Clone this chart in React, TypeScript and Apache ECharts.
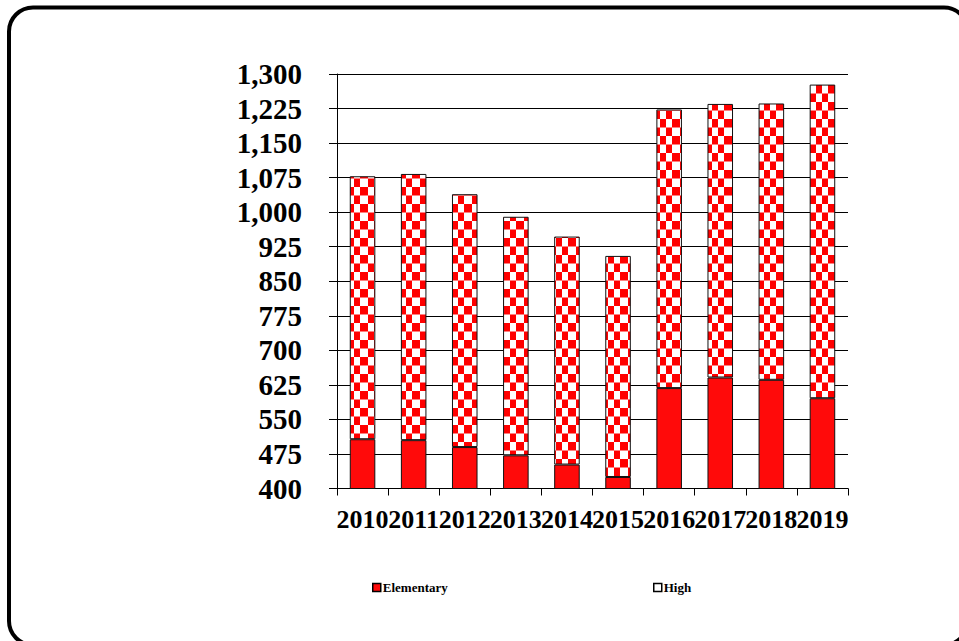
import React, { useEffect, useRef } from "react";
import * as echarts from "echarts";

// Enrollment by school level, 2010–2019
const years = ["2010", "2011", "2012", "2013", "2014", "2015", "2016", "2017", "2018", "2019"];
const elementary = [507, 505, 490, 472, 452, 425, 618, 641, 636, 596];
const high = [571, 578, 549, 518, 495, 480, 605, 594, 600, 681];

// Value axis range and step
const yMin = 400;
const yMax = 1300;
const yStep = 75;

const SERIF = '"Liberation Serif", "Times New Roman", serif';

// Red/white checkerboard tile, one bar wide, used for the "High" bars
function makeChecker(): HTMLCanvasElement {
  const c = document.createElement("canvas");
  c.width = 26;
  c.height = 17;
  const ctx = c.getContext("2d")!;
  ctx.fillStyle = "#ffffff";
  ctx.fillRect(0, 0, c.width, c.height);
  ctx.fillStyle = "#ff0000";
  const rowH = 8.5;
  // row A: red edges and red centre; row B: the two red inner columns
  ctx.fillRect(0, 0, 4, rowH);
  ctx.fillRect(10, 0, 6, rowH);
  ctx.fillRect(22, 0, 4, rowH);
  ctx.fillRect(4, rowH, 6, rowH);
  ctx.fillRect(16, rowH, 6, rowH);
  return c;
}

export default function App() {
  const ref = useRef<HTMLDivElement>(null);

  useEffect(() => {
    if (!ref.current) return;
    const chart = echarts.init(ref.current, undefined, { renderer: "svg" });
    const checker = makeChecker();

    const legendText = {
      fontFamily: SERIF,
      fontWeight: "bold" as const,
      fontSize: 13,
      color: "#000",
      padding: [0, 0, 0, -3],
    };

    chart.setOption({
      animation: false,
      backgroundColor: "#ffffff",
      grid: { left: 337, right: 111, top: 74, bottom: 152.5, containLabel: false },
      xAxis: {
        type: "category",
        data: years,
        axisLine: { show: true, lineStyle: { color: "#000", width: 1 } },
        axisTick: { show: true, length: 7, lineStyle: { color: "#000", width: 1 } },
        axisLabel: {
          interval: 0,
          margin: 18,
          color: "#000",
          fontFamily: SERIF,
          fontWeight: "bold",
          fontSize: 26,
        },
      },
      yAxis: {
        type: "value",
        min: yMin,
        max: yMax,
        interval: yStep,
        axisLine: { show: true, lineStyle: { color: "#000", width: 1 } },
        axisTick: { show: true, length: 8, lineStyle: { color: "#000", width: 1 } },
        splitLine: { show: true, lineStyle: { color: "#000", width: 1 } },
        axisLabel: {
          margin: 35,
          color: "#000",
          fontFamily: SERIF,
          fontWeight: "bold",
          fontSize: 29,
          formatter: (v: number) => v.toLocaleString("en-US"),
        },
      },
      legend: [
        {
          data: ["Elementary"],
          left: 372,
          top: 581,
          padding: 0,
          itemWidth: 8,
          itemHeight: 8,
          icon: "rect",
          itemStyle: { borderColor: "#000", borderWidth: 1.5 },
          textStyle: legendText,
        },
        {
          data: ["High"],
          left: 653,
          top: 581,
          padding: 0,
          itemWidth: 8,
          itemHeight: 8,
          icon: "rect",
          itemStyle: { color: "#ffffff", borderColor: "#000", borderWidth: 1.5 },
          textStyle: legendText,
        },
      ],
      graphic: [
        {
          type: "rect",
          silent: true,
          shape: { x: 9, y: 7.5, width: 959, height: 637.5, r: 24 },
          style: { fill: "none", stroke: "#000", lineWidth: 4 },
        },
      ],
      series: [
        {
          name: "Elementary",
          type: "bar",
          stack: "total",
          barWidth: "50%",
          data: elementary,
          itemStyle: { color: "#ff0a0a", borderColor: "#111", borderWidth: 1 },
        },
        {
          name: "High",
          type: "bar",
          stack: "total",
          barWidth: "50%",
          data: high,
          itemStyle: {
            color: { image: checker, repeat: "repeat" },
            borderColor: "#111",
            borderWidth: 1,
          },
        },
      ],
    });

    // Anchor the checker tile to each bar's left edge so every bar starts the same way
    const px = (i: number) => chart.convertToPixel({ xAxisIndex: 0 }, years[i]) as number;
    const band = px(1) - px(0);
    chart.setOption({
      series: [
        {},
        {
          data: high.map((v, i) => ({
            value: v,
            itemStyle: {
              color: { image: checker, repeat: "repeat", x: px(i) - band / 4, y: 0 },
            },
          })),
        },
      ],
    });

    return () => chart.dispose();
  }, []);

  return (
    <div
      ref={ref}
      style={{ position: "fixed", left: 0, top: 0, width: 959, height: 641, background: "#fff" }}
    />
  );
}
